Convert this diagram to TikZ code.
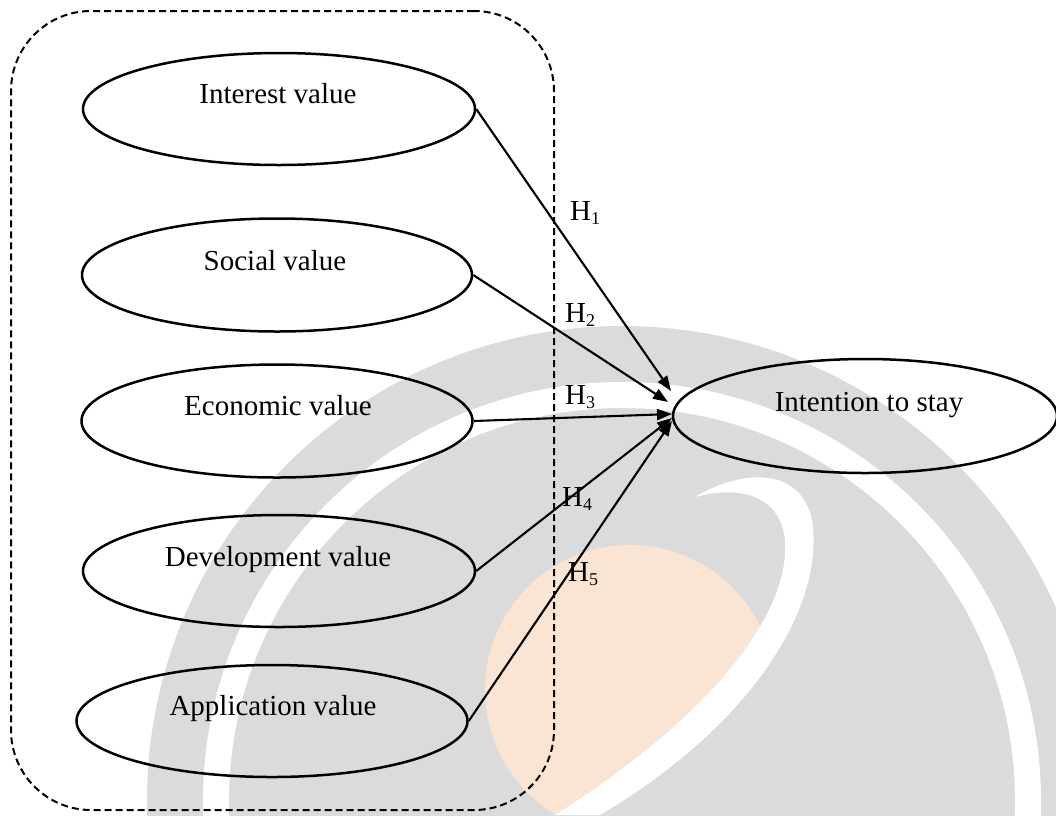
\documentclass[tikz,border=0pt]{standalone}
\usepackage{fontspec}
\setmainfont{Liberation Serif}
\usetikzlibrary{shapes.geometric,arrows.meta}

\definecolor{wmgrey}{RGB}{219,219,219}
\definecolor{wmpeach}{RGB}{250,228,212}

% hypothesis label: H with a lowered small digit
\newcommand\hyplabel[1]{H\raisebox{-4pt}{\fontsize{18}{20}\selectfont #1}}

\begin{document}
\begin{tikzpicture}[x=1pt,y=-1pt,
  construct/.style={draw, ellipse, line width=2.5pt, inner sep=0pt},
  lbl/.style={font=\fontsize{29}{34}\selectfont, anchor=base, inner sep=0pt},
  hlab/.style={font=\fontsize{29}{34}\selectfont, anchor=base west, inner sep=0pt},
  hyp/.style={-{Triangle[length=15pt,width=11pt]}, line width=2.1pt},
  groupframe/.style={draw, dash pattern=on 7pt off 4pt, line width=2pt,
                     rounded corners=80pt, inner sep=0pt}]

\useasboundingbox (0,0) rectangle (1056,815);

% faint background emblem
\begin{scope}
  \clip (0,0) rectangle (1056,815);
  \fill[wmgrey] (622,801) circle [radius=475pt];
  \draw[white, line width=26pt] (622,801) circle [radius=406pt];
  \begin{scope}
    % globe kept on the inner side of the swoosh
    \clip (0,815) -- (555,815)
       .. controls (720,710) and (790,610) .. (785,540)
       .. controls (780,495) and (740,485) .. (695,497)
       -- (600,420) -- (0,420) -- cycle;
    \fill[wmpeach] (630,690) circle [radius=145pt];
  \end{scope}
  \fill[white] (695,497) .. controls (740,470) and (800,465) .. (812,520)
     .. controls (825,600) and (760,720) .. (600,815) -- (555,815)
     .. controls (720,710) and (790,610) .. (785,540)
     .. controls (780,495) and (740,485) .. (695,497) -- cycle;
\end{scope}

% grouping frame around the value constructs
\node[groupframe, minimum width=543pt, minimum height=799pt] (frame) at (282.5,410.5) {};

% value constructs
\node[construct, minimum width=392pt, minimum height=112pt] (iv) at (279,109) {};
\node[lbl] (ivt) at (278,103) {Interest value};
\node[construct, minimum width=390pt, minimum height=113pt] (sv) at (277,275) {};
\node[lbl] (svt) at (275,270) {Social value};
\node[construct, minimum width=391pt, minimum height=113pt] (ev) at (277,421) {};
\node[lbl] (evt) at (278,415) {Economic value};
\node[construct, minimum width=392pt, minimum height=112pt] (dv) at (279,571) {};
\node[lbl] (dvt) at (278,566) {Development value};
\node[construct, minimum width=391pt, minimum height=112pt] (av) at (272,721) {};
\node[lbl] (avt) at (273,715) {Application value};

% outcome
\node[construct, minimum width=384pt, minimum height=114pt] (its) at (865,416) {};
\node[lbl] (itst) at (869,411) {Intention to stay};

% arrow tips gathered at the outcome
\coordinate (t1) at (671,391);
\coordinate (t2) at (668,402);
\coordinate (t3) at (672,414);
\coordinate (t4) at (672,418);
\coordinate (t5) at (672,421);

\draw[hyp] (iv.east) -- (t1);
\draw[hyp] (sv.east) -- (t2);
\draw[hyp] (ev.east) -- (t3);
\draw[hyp] (dv.east) -- (t4);
\draw[hyp] (av.east) -- (t5);

% hypothesis labels
\node[hlab] (h1) at (570,220) {\hyplabel{1}};
\node[hlab] (h2) at (565,322) {\hyplabel{2}};
\node[hlab] (h3) at (565,404) {\hyplabel{3}};
\node[hlab] (h4) at (562,506) {\hyplabel{4}};
\node[hlab] (h5) at (568,581) {\hyplabel{5}};

\end{tikzpicture}
\end{document}
